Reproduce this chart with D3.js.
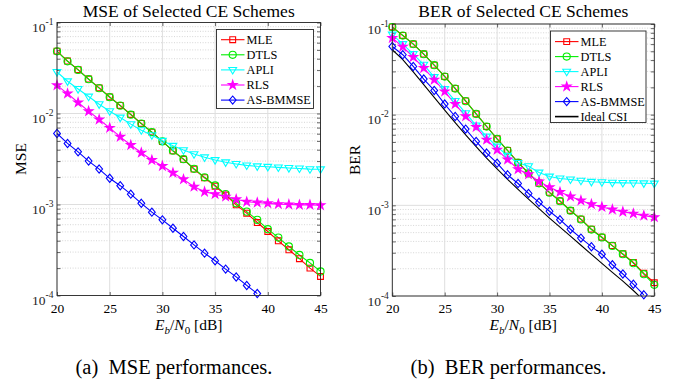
<!DOCTYPE html>
<html><head><meta charset="utf-8">
<script src="https://cdn.jsdelivr.net/npm/d3@7/dist/d3.min.js"></script>
<style>
body{margin:0;background:#fff}
text{font-family:"Liberation Serif","Times New Roman",serif;fill:#000}
</style>
</head><body>
<svg id="c" width="685" height="384"></svg>
<script>
// ---------- data ----------
const snr = [20,21,22,23,24,25,26,27,28,29,30,31,32,33,34,35,36,37,38,39,40,41,42,43,44,45];
const xTicks = [20,25,30,35,40,45];
const yMajor = [1e-1,1e-2,1e-3,1e-4];
const yExp = ["-1","-2","-3","-4"];
const seriesNames = ["MLE","DTLS","APLI","RLS","AS-BMMSE","Ideal CSI"];
const seriesColors = ["#ff0000","#00ee00","#00ffff","#ff00ff","#0000ff","#000000"];
const seriesMarkers = ["square","circle","triDown","star","diamond","none"];

// MSE panel
const mseMLE  = [0.0485,0.0377,0.0303,0.0239,0.0191,0.0152,0.01225,0.00975,0.00777,0.00624,0.00493,0.00389,0.00314,0.00245,0.00197,0.00159,0.00127,0.00099,0.000803,0.000634,0.000505,0.000399,0.000318,0.000254,0.0002,0.000162];
const mseDTLS = [0.0482,0.0375,0.0301,0.0238,0.019,0.0151,0.0122,0.0097,0.00775,0.00623,0.00493,0.0039,0.00315,0.00247,0.00199,0.00162,0.0013,0.00103,0.000835,0.000678,0.000536,0.000433,0.000346,0.000279,0.000228,0.000184];
const mseAPLI = [0.0286,0.0226,0.0186,0.01535,0.01265,0.0106,0.00903,0.00764,0.00656,0.00578,0.00501,0.00442,0.00396,0.00358,0.0033,0.00308,0.00291,0.00279,0.00269,0.00263,0.0026,0.00256,0.00252,0.00249,0.00245,0.00244];
const mseRLS  = [0.0204,0.01655,0.0132,0.0106,0.00859,0.00695,0.00554,0.0045,0.00371,0.00308,0.00265,0.00223,0.00189,0.00157,0.00138,0.0013,0.00122,0.00114,0.00107,0.00105,0.00103,0.00101,0.001,0.00099,0.00099,0.00098];
const mseBMMSE= [0.00604,0.00469,0.00379,0.003,0.00245,0.00194,0.00161,0.0013,0.00103,0.000824,0.000678,0.000549,0.000445,0.00036,0.000292,0.000241,0.000195,0.00016,0.000129,0.000105];

// BER panel
const berMLE  = [0.0927,0.0748,0.0601,0.0466,0.0352,0.0264,0.0195,0.0142,0.0102,0.00741,0.00542,0.00403,0.00297,0.00226,0.00176,0.00139,0.00112,0.000877,0.000705,0.000545,0.000445,0.00036,0.000292,0.000234,0.000178,0.00014];
const berDTLS = [0.0925,0.0746,0.0600,0.0465,0.0351,0.0263,0.0194,0.0141,0.0102,0.0074,0.00541,0.00402,0.00296,0.00225,0.00175,0.00138,0.00111,0.000872,0.0007,0.000541,0.000442,0.000357,0.000289,0.00023,0.000174,0.000133];
const berAPLI = [0.0765,0.0601,0.0466,0.0356,0.026,0.0192,0.0142,0.0104,0.0076,0.00574,0.00445,0.00352,0.00294,0.0027,0.0023,0.00208,0.00198,0.00193,0.00187,0.00182,0.0018,0.00178,0.00177,0.00176,0.00175,0.00174];
const berRLS  = [0.0700,0.0560,0.0432,0.0327,0.0243,0.018,0.0131,0.0096,0.0073,0.0053,0.0041,0.0032,0.0025,0.0022,0.00183,0.00158,0.0014,0.00125,0.00113,0.00103,0.00096,0.0009,0.00085,0.00081,0.00077,0.00074];
const berBMMSE= [0.0566,0.0458,0.034,0.0247,0.0185,0.0131,0.00955,0.00693,0.00506,0.00377,0.00292,0.00217,0.00174,0.00135,0.00108,0.00086,0.000695,0.000545,0.000435,0.00035,0.000289,0.000221,0.000175,0.000135,0.000103];
const berIdeal= [0.052,0.0404,0.0296,0.0214,0.0155,0.01125,0.00815,0.00597,0.00443,0.00332,0.00252,0.00193,0.0015,0.00117,0.000918,0.000724,0.000575,0.000457,0.000363,0.000288,0.000229,0.000182,0.000146,0.000115,0.0000891];

// ---------- drawing ----------
const svg = d3.select("#c");
const FRAME = "#262626";

function markerPath(type){
  switch(type){
    case "square": return d3.symbol(d3.symbolSquare, 34)();
    case "circle": return d3.symbol(d3.symbolCircle, 40)();
    case "star": return d3.symbol(d3.symbolStar, 24)();
    case "diamond": return "M0,-4.1L3.4,0L0,4.1L-3.4,0Z";
    case "triDown": return "M-3.9,-2.4L3.9,-2.4L0,4.1Z";
  }
  return null;
}

function drawPanel(p){
  const g = svg.append("g");
  const x = d3.scaleLinear().domain([20,45]).range([p.x0,p.x1]);
  const y = d3.scaleLog().domain([1e-4,1e-1]).range([p.y1,p.y0]);
  const minor = [];
  yMajor.slice(1).forEach(m => { for(let k=2;k<=9;k++) minor.push(m*k); });

  // grid
  g.append("g").selectAll("line").data(minor).join("line")
    .attr("x1",p.x0).attr("x2",p.x1).attr("y1",d=>y(d)).attr("y2",d=>y(d))
    .attr("stroke","#c4c4c4").attr("stroke-width",0.7).attr("stroke-dasharray","1,1.6");
  g.append("g").selectAll("line").data(yMajor).join("line")
    .attr("x1",p.x0).attr("x2",p.x1).attr("y1",d=>y(d)).attr("y2",d=>y(d))
    .attr("stroke","#dedede").attr("stroke-width",1);
  g.append("g").selectAll("line").data(xTicks).join("line")
    .attr("x1",d=>x(d)).attr("x2",d=>x(d)).attr("y1",p.y0).attr("y2",p.y1)
    .attr("stroke","#dedede").attr("stroke-width",1);

  // axes (inward ticks on all sides)
  const style = s => { s.select(".domain").remove(); s.selectAll(".tick line").attr("stroke",FRAME).attr("stroke-width",0.7); };
  g.append("g").attr("transform",`translate(0,${p.y1})`)
    .call(d3.axisBottom(x).tickValues(xTicks).tickSize(-3.5).tickPadding(7.5).tickFormat(d3.format("d")))
    .call(style)
    .call(s => s.selectAll("text").attr("font-size",13.5).attr("font-family","Liberation Serif").attr("fill","#262626"));
  g.append("g").attr("transform",`translate(0,${p.y0})`)
    .call(d3.axisTop(x).tickValues(xTicks).tickSize(-3.5).tickFormat(""))
    .call(style);
  g.append("g").attr("transform",`translate(${p.x0},0)`)
    .call(d3.axisLeft(y).tickValues(yMajor.concat(minor)).tickSize(-3.5).tickFormat(""))
    .call(style);
  g.append("g").attr("transform",`translate(${p.x1},0)`)
    .call(d3.axisRight(y).tickValues(yMajor.concat(minor)).tickSize(-3.5).tickFormat(""))
    .call(style);

  // y tick labels with superscripts
  yMajor.forEach((v,i) => {
    const t = g.append("text").attr("x",p.x0-3.5).attr("y",y(v)+9.5)
      .attr("text-anchor","end").attr("font-size",13.5).style("fill","#262626");
    t.append("tspan").text("10");
    t.append("tspan").attr("dy",-7).attr("font-size",9.5).text(yExp[i]);
  });

  // clip
  const cid = "clip"+p.id;
  svg.append("clipPath").attr("id",cid).append("rect")
    .attr("x",p.x0).attr("y",p.y0).attr("width",p.x1-p.x0).attr("height",p.y1-p.y0);

  const line = d3.line().x(d=>x(d[0])).y(d=>y(d[1]));
  const sg = g.append("g").attr("clip-path",`url(#${cid})`);
  const mg = g.append("g");
  p.series.forEach((vals,si) => {
    const idx = p.idx[si];
    const col = seriesColors[idx];
    const pts = vals.map((v,i)=>[snr[i],v]);
    sg.append("path").datum(pts).attr("d",line).attr("fill","none")
      .attr("stroke",col).attr("stroke-width",1.1);
    const mk = seriesMarkers[idx];
    if(mk!=="none"){
      mg.append("g").selectAll("path").data(pts.filter(d=>d[1]>=1e-4)).join("path")
        .attr("transform",d=>`translate(${x(d[0])},${y(d[1])})`)
        .attr("d",markerPath(mk))
        .attr("fill", mk==="star"?col:"none")
        .attr("stroke",col).attr("stroke-width",1.1);
    }
  });

  // frame
  g.append("rect").attr("x",p.x0).attr("y",p.y0).attr("width",p.x1-p.x0).attr("height",p.y1-p.y0)
    .attr("fill","none").attr("stroke",FRAME).attr("stroke-width",0.9);

  // title & labels
  const cx = (p.x0+p.x1)/2;
  g.append("text").attr("x",cx).attr("y",p.titleY).attr("text-anchor","middle")
    .attr("font-size",17.5).text(p.title);
  g.append("text").attr("transform",`translate(${p.ylabX},${(p.y0+p.y1)/2}) rotate(-90)`)
    .attr("text-anchor","middle").attr("dominant-baseline","central").attr("font-size",15.5).text(p.ylabel);
  const xl = g.append("text").attr("x",cx).attr("y",330).attr("text-anchor","middle").attr("font-size",15.5);
  xl.append("tspan").attr("font-style","italic").text("E");
  xl.append("tspan").attr("font-style","italic").attr("font-size",11).attr("dy",4).text("b");
  xl.append("tspan").attr("dy",-4).text("/");
  xl.append("tspan").attr("font-style","italic").text("N");
  xl.append("tspan").attr("font-size",11).attr("dy",4).text("0");
  xl.append("tspan").attr("dy",-4).text(" [dB]");
  g.append("text").attr("x",p.capX).attr("y",374).attr("text-anchor","middle")
    .attr("font-size",20.5).style("white-space","pre").text(p.caption);

  // legend
  const L = p.legend;
  g.append("rect").attr("x",L.x).attr("y",L.y).attr("width",L.w).attr("height",L.h)
    .attr("fill","#fff").attr("stroke",FRAME).attr("stroke-width",0.9);
  p.idx.forEach((idx,k) => {
    const yy = L.first + k*L.step;
    const col = seriesColors[idx];
    g.append("line").attr("x1",L.x+4.5).attr("x2",L.x+28).attr("y1",yy).attr("y2",yy)
      .attr("stroke",col).attr("stroke-width", idx===5?1.6:1.1);
    const mk = seriesMarkers[idx];
    if(mk!=="none") g.append("path").attr("transform",`translate(${L.x+16.2},${yy})`)
      .attr("d",markerPath(mk)).attr("fill",mk==="star"?col:"none").attr("stroke",col).attr("stroke-width",1.1);
    g.append("text").attr("x",L.x+30).attr("y",yy).attr("dominant-baseline","central")
      .attr("font-size",12.3).text(seriesNames[idx]);
  });
}

drawPanel({id:"a", x0:57, x1:320.5, y0:22.5, y1:295.5, title:"MSE of Selected CE Schemes", titleY:17,
  ylabel:"MSE", ylabX:20.5, caption:"(a)\u00a0\u00a0MSE performances.", capX:174,
  series:[mseMLE,mseDTLS,mseAPLI,mseRLS,mseBMMSE], idx:[0,1,2,3,4],
  legend:{x:216.5,y:29.5,w:97,h:79,first:39.7,step:15.1}});
drawPanel({id:"b", x0:392.3, x1:654.3, y0:24, y1:296, title:"BER of Selected CE Schemes", titleY:17,
  ylabel:"BER", ylabX:354, caption:"(b)\u00a0\u00a0BER performances.", capX:508.5,
  series:[berMLE,berDTLS,berAPLI,berRLS,berBMMSE,berIdeal], idx:[0,1,2,3,4,5],
  legend:{x:550.5,y:31,w:95.5,h:91.5,first:41.6,step:15}});
</script>
</body></html>
